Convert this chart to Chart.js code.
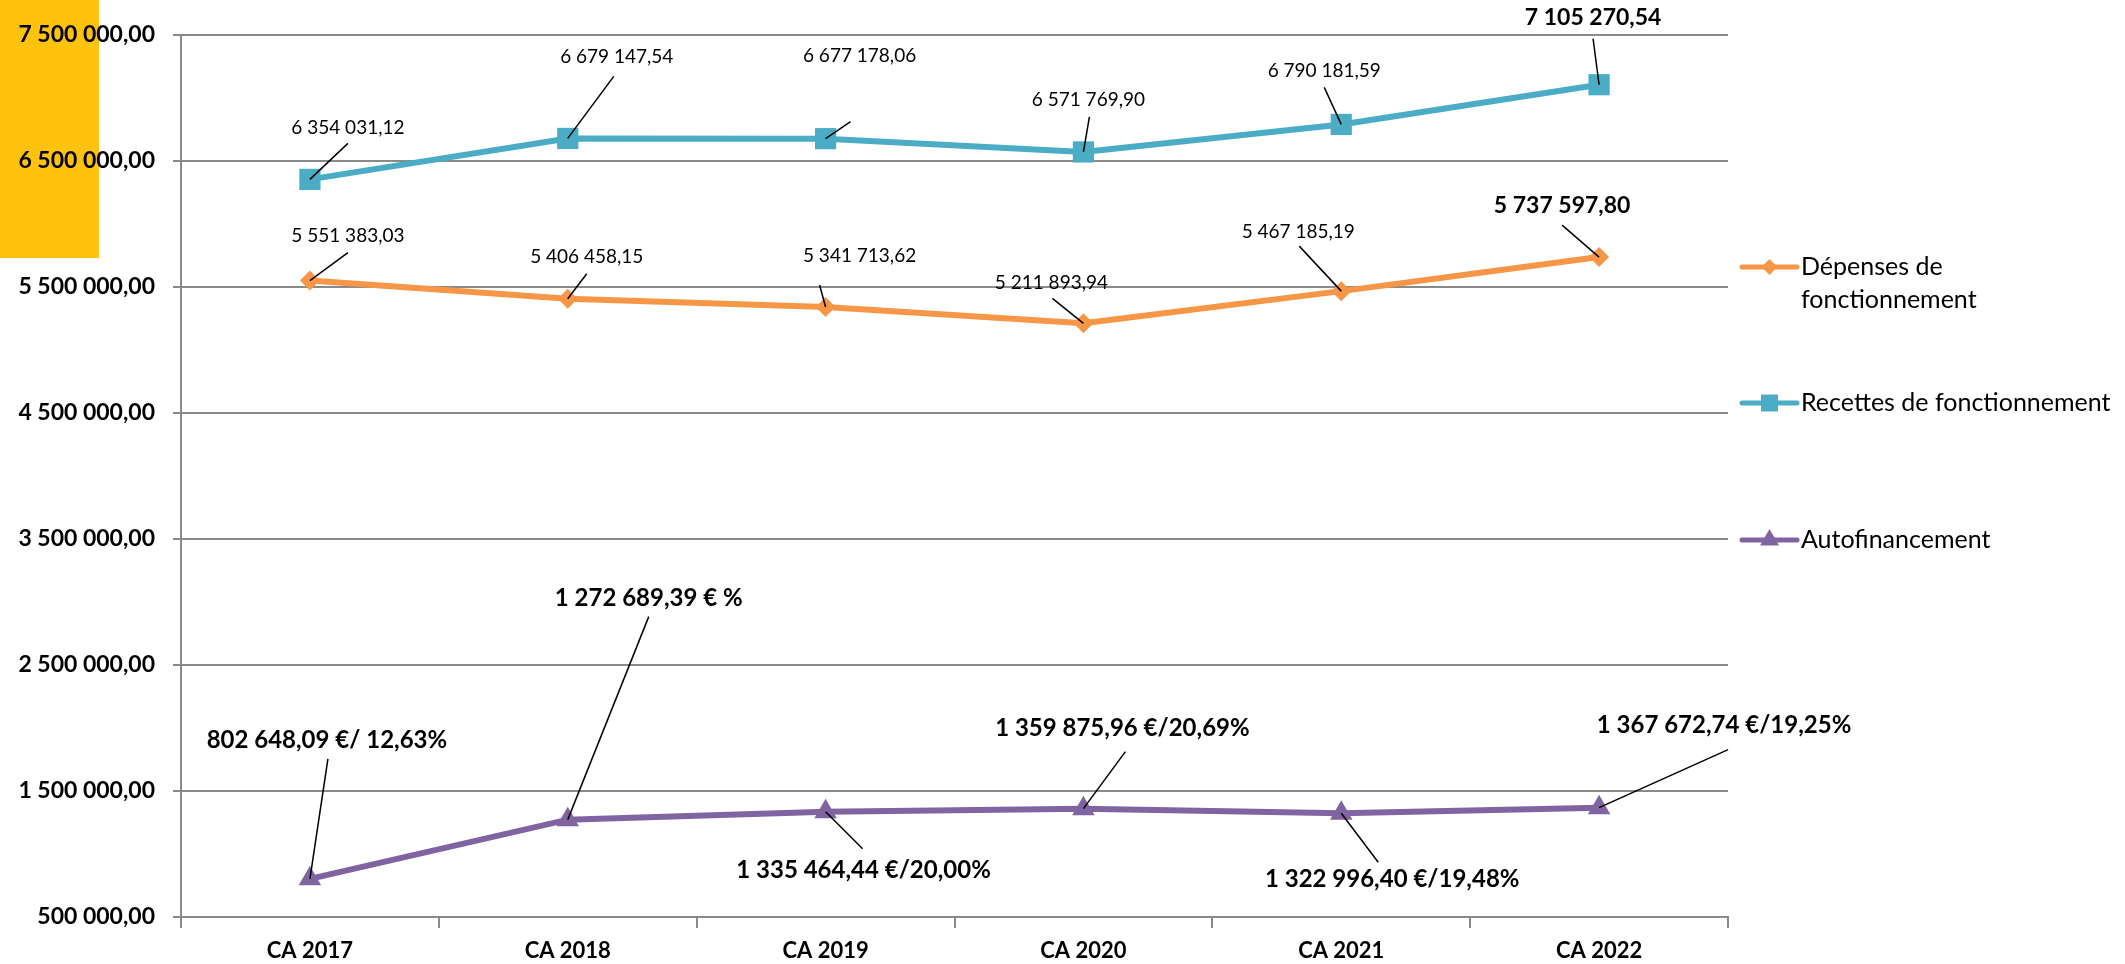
<!DOCTYPE html>
<html lang="fr">
<head>
<meta charset="utf-8">
<title>Section de fonctionnement CA 2017 - CA 2022</title>
<script src="https://cdn.jsdelivr.net/npm/chart.js@4.4.1/dist/chart.umd.min.js"></script>
<style>
  html, body { margin: 0; background: #fff; }
  #wrap { position: relative; width: 2125px; height: 964px; }
  #flag { position: absolute; left: 0; top: 0; width: 99px; height: 258px; background: #ffc30d; }
  #chart { position: relative; z-index: 1; }
</style>
</head>
<body>
<div id="wrap"><div id="flag"></div><canvas id="chart"></canvas></div>
<script>
const years = ["CA 2017", "CA 2018", "CA 2019", "CA 2020", "CA 2021", "CA 2022"];
const depenses = [5551383.03, 5406458.15, 5341713.62, 5211893.94, 5467185.19, 5737597.80];
const recettes = [6354031.12, 6679147.54, 6677178.06, 6571769.90, 6790181.59, 7105270.54];
const autofin = [802648.09, 1272689.39, 1335464.44, 1359875.96, 1322996.40, 1367672.74];
const autofinTexts = ["802 648,09 €/ 12,63%", "1 272 689,39 € %", "1 335 464,44 €/20,00%",
                      "1 359 875,96 €/20,69%", "1 322 996,40 €/19,48%", "1 367 672,74 €/19,25%"];
const yMin = 500000, yMax = 7500000, yStep = 1000000;

// "7 500 000,00"
const fmt = n => {
  const [i, d] = n.toFixed(2).split(".");
  return i.replace(/\B(?=(\d{3})+(?!\d))/g, " ") + "," + d;
};

// callout placement: label centre and leader end, relative to the point (px)
const calloutLabel = [
  [[38, -45], [19, -42], [34, -51], [-32, -40], [-43, -59], [-37, -51]],
  [[38, -52], [49, -82], [34, -83], [5, -52], [-17, -54], [-6, -67]],
  [[17, -139], [81, -221], [38, 59], [39, -80], [51, 66], [125, -82]]
];
const calloutLeader = [
  [[38, -28], [19, -25], [-6, -22], [-31, -25], [-42, -45], [-37, -32]],
  [[38, -36], [46, -62], [25, -17], [6, -35], [-17, -37], [-6, -46]],
  [[18, -120], [81, -203], [37, 37], [42, -57], [37, 49], [129, -58]]
];
const calloutText = [depenses.map(fmt), recettes.map(fmt), autofinTexts];
const calloutFont = (di, i) =>
  di === 2 ? "bold 24px Lato" : (i === years.length - 1 ? "bold 23px Lato" : "19px Lato");

const callouts = {
  id: "callouts",
  afterDatasetsDraw(chart) {
    const ctx = chart.ctx;
    ctx.save();
    chart.data.datasets.forEach((ds, di) => {
      chart.getDatasetMeta(di).data.forEach((pt, i) => {
        const [lx, ly] = calloutLabel[di][i], [ex, ey] = calloutLeader[di][i];
        ctx.strokeStyle = "#000"; ctx.lineWidth = 1.5;
        ctx.beginPath(); ctx.moveTo(pt.x, pt.y); ctx.lineTo(pt.x + ex, pt.y + ey); ctx.stroke();
        ctx.font = calloutFont(di, i);
        ctx.fillStyle = "#000"; ctx.textAlign = "center"; ctx.textBaseline = "middle";
        ctx.fillText(calloutText[di][i], pt.x + lx, pt.y + ly);
      });
    });
    ctx.restore();
  }
};

// legend on the right, like the spreadsheet one
const legendRows = [
  { lines: ["Dépenses de", "fonctionnement"], y: 267, r: 8 },
  { lines: ["Recettes de fonctionnement"], y: 403, r: 12 },
  { lines: ["Autofinancement"], y: 540, r: 11 }
];
const sideLegend = {
  id: "sideLegend",
  afterDraw(chart) {
    const ctx = chart.ctx, x0 = chart.chartArea.right + 14;
    ctx.save();
    legendRows.forEach((row, di) => {
      const ds = chart.data.datasets[di];
      ctx.strokeStyle = ds.borderColor; ctx.lineWidth = 5; ctx.lineCap = "round";
      ctx.beginPath(); ctx.moveTo(x0, row.y); ctx.lineTo(x0 + 55, row.y); ctx.stroke();
      ctx.fillStyle = ds.borderColor;
      Chart.helpers.drawPoint(ctx, { pointStyle: ds.pointStyle, radius: row.r, rotation: 0, borderWidth: 0 },
                              x0 + 27.5, row.y);
      ctx.fillStyle = "#000"; ctx.font = "25px Lato";
      ctx.textAlign = "left"; ctx.textBaseline = "middle";
      row.lines.forEach((t, k) => ctx.fillText(t, x0 + 59, row.y + k * 33));
    });
    ctx.restore();
  }
};

const line = (label, data, color, pointStyle, radius) => ({
  label, data, borderColor: color, backgroundColor: color, borderWidth: 6,
  pointStyle, pointRadius: radius, pointHoverRadius: radius, pointBorderWidth: 0,
  pointBackgroundColor: color, tension: 0
});

const axisGray = "#8a8a8a";
new Chart(document.getElementById("chart"), {
  type: "line",
  data: {
    labels: years,
    datasets: [
      line("Dépenses de fonctionnement", depenses, "#f79646", "rectRot", 10),
      line("Recettes de fonctionnement", recettes, "#4bacc6", "rect", 15),
      line("Autofinancement", autofin, "#8064a2", "triangle", 13)
    ]
  },
  options: {
    responsive: true, maintainAspectRatio: false, animation: false,
    layout: { padding: { top: 35, right: 397, bottom: 0, left: 0 } },
    plugins: { legend: { display: false }, tooltip: { enabled: false } },
    scales: {
      x: {
        offset: true,
        grid: { offset: true, drawOnChartArea: false, color: axisGray, lineWidth: 2, tickLength: 11 },
        border: { color: axisGray, width: 2 },
        ticks: { color: "#000", padding: 10, font: { family: "Lato", weight: "bold", size: 22 } },
        afterFit: s => { s.height = 47; }
      },
      y: {
        min: yMin, max: yMax,
        grid: { color: axisGray, lineWidth: 2, tickLength: 8 },
        border: { color: axisGray, width: 2 },
        ticks: { stepSize: yStep, callback: v => fmt(v), color: "#000", padding: 18,
                 font: { family: "Lato", weight: "bold", size: 23 } },
        afterFit: s => { s.width = 181; }
      }
    }
  },
  plugins: [callouts, sideLegend]
});
</script>
</body>
</html>
